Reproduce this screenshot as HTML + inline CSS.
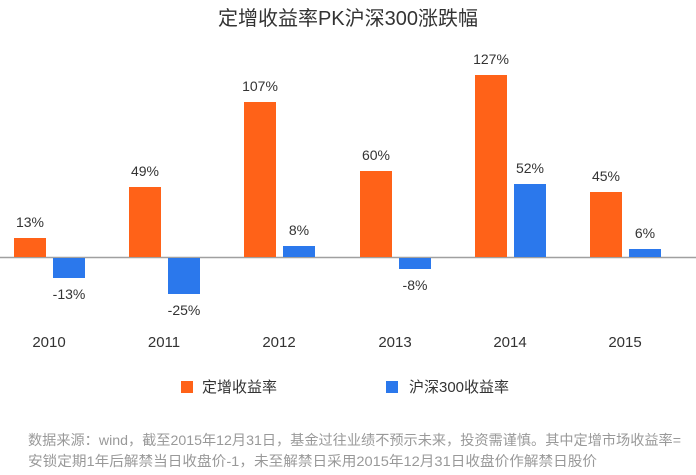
<!DOCTYPE html>
<html><head><meta charset="utf-8"><style>
body{margin:0;background:#fff;}
svg text{font-family:"Liberation Sans","Noto Sans CJK SC",sans-serif;}
</style></head><body>
<svg width="696" height="470" xmlns="http://www.w3.org/2000/svg">
<text x="348" y="25" font-size="20" fill="#333" text-anchor="middle">定增收益率PK沪深300涨跌幅</text>
<line x1="0" y1="257.5" x2="696" y2="257.5" stroke="#a0a0a0" stroke-width="1.5"/>
<g fill="#FF6218">
<rect x="14" y="238" width="32" height="19"/>
<rect x="129" y="187" width="32" height="70"/>
<rect x="244" y="102" width="32" height="155"/>
<rect x="360" y="171" width="32" height="86"/>
<rect x="475" y="75" width="32" height="182"/>
<rect x="590" y="192" width="32" height="65"/>
</g>
<g fill="#2B78EC">
<rect x="53" y="258" width="32" height="20"/>
<rect x="168" y="258" width="32" height="36"/>
<rect x="283" y="246" width="32" height="11"/>
<rect x="399" y="258" width="32" height="11"/>
<rect x="514" y="184" width="32" height="73"/>
<rect x="629" y="249" width="32" height="8"/>
</g>
<g font-size="14" fill="#333" text-anchor="middle">
<text x="30" y="227">13%</text>
<text x="145" y="176">49%</text>
<text x="260" y="91">107%</text>
<text x="376" y="160">60%</text>
<text x="491" y="64">127%</text>
<text x="606" y="181">45%</text>
<text x="69" y="299">-13%</text>
<text x="184" y="315">-25%</text>
<text x="299" y="235">8%</text>
<text x="415" y="290">-8%</text>
<text x="530" y="173">52%</text>
<text x="645" y="238">6%</text>
</g>
<g font-size="15" fill="#333" text-anchor="middle">
<text x="49" y="347">2010</text>
<text x="164" y="347">2011</text>
<text x="279" y="347">2012</text>
<text x="395" y="347">2013</text>
<text x="510" y="347">2014</text>
<text x="625" y="347">2015</text>
</g>
<rect x="181" y="381" width="12" height="12" fill="#FF6218"/>
<text x="202" y="392" font-size="15" fill="#333">定增收益率</text>
<rect x="386" y="381" width="12" height="12" fill="#2B78EC"/>
<text x="409" y="392" font-size="15" fill="#333">沪深300收益率</text>
<g font-size="14" fill="#999">
<text x="28" y="445" textLength="653" lengthAdjust="spacingAndGlyphs">数据来源：wind，截至2015年12月31日，基金过往业绩不预示未来，投资需谨慎。其中定增市场收益率=</text>
<text x="28" y="466" textLength="569" lengthAdjust="spacingAndGlyphs">安锁定期1年后解禁当日收盘价-1，未至解禁日采用2015年12月31日收盘价作解禁日股价</text>
</g>
</svg>
</body></html>
